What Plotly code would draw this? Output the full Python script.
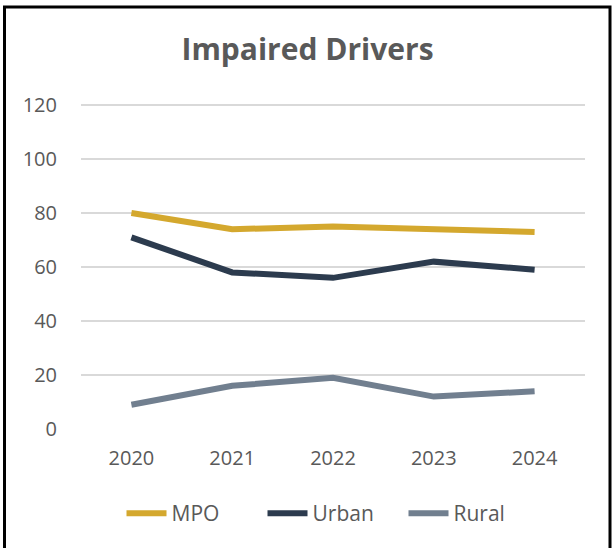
import plotly.graph_objects as go

years = ["2020", "2021", "2022", "2023", "2024"]
mpo = [80, 74, 75, 74, 73]
urban = [71, 58, 56, 62, 59]
rural = [9, 16, 19, 12, 14]

series = [
    ("MPO", mpo, "#D4A82E"),
    ("Urban", urban, "#2C3B4E"),
    ("Rural", rural, "#717F8F"),
]

W, H = 615, 548
ML, MR, MT, MB = 81, 30, 104, 119
FONT = "Open Sans"
TXT = "#595959"

fig = go.Figure()
for name, vals, color in series:
    fig.add_trace(go.Scatter(
        x=years, y=vals, name=name, mode="lines",
        line=dict(color=color, width=6),
    ))

pw = W - ML - MR
ph = H - MT - MB
# outer frame of the chart area, expressed in paper units
x0 = (4.5 - ML) / pw
x1 = (610 - ML) / pw
y1 = (H - MB - 7) / ph
y0 = (H - MB - 570) / ph

fig.update_layout(
    width=W, height=H,
    margin=dict(l=ML, r=MR, t=MT, b=MB),
    paper_bgcolor="white", plot_bgcolor="white",
    font=dict(family=FONT, size=20, color=TXT),
    title=dict(text="<b>Impaired Drivers</b>", x=0.5, xanchor="center",
               xref="container", y=1 - 49 / H, yanchor="middle",
               yref="container",
               font=dict(family=FONT, size=30, color=TXT)),
    xaxis=dict(type="category", range=[-0.5, 4.5], showgrid=False,
               showline=False, zeroline=False, ticks="",
               tickfont=dict(family=FONT, size=20, color=TXT),
               ticklabelstandoff=15),
    yaxis=dict(range=[0, 120.4], dtick=20, tick0=0, showgrid=True,
               gridcolor="#D9D9D9", gridwidth=1.5, zeroline=False,
               showline=False, ticks="",
               tickfont=dict(family=FONT, size=20, color=TXT),
               ticklabelstandoff=23),
    legend=dict(orientation="h", x=0.5, xanchor="center", y=-0.26,
                yanchor="middle", font=dict(family=FONT, size=21, color=TXT),
                itemwidth=40, tracegroupgap=0,
                entrywidth=86, entrywidthmode="pixels"),
    shapes=[dict(type="rect", xref="paper", yref="paper",
                 x0=x0, x1=x1, y0=y0, y1=y1,
                 line=dict(color="black", width=3), layer="above")],
)

fig.write_html("out.html")
